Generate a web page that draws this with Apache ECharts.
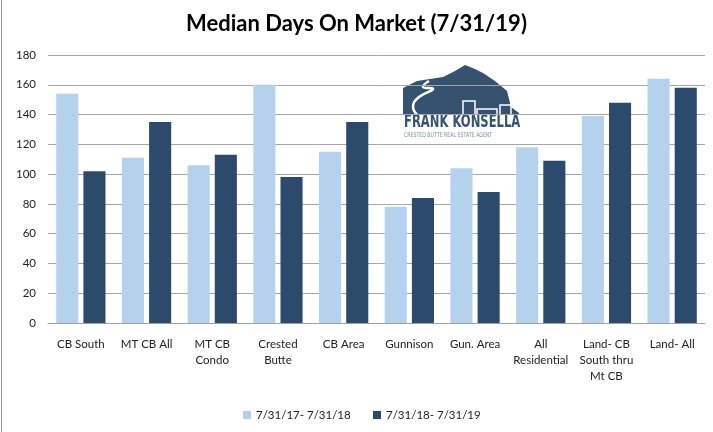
<!DOCTYPE html>
<html>
<head>
<meta charset="utf-8">
<script src="https://cdn.jsdelivr.net/npm/echarts@6/dist/echarts.min.js"></script>
<style>
html,body{margin:0;padding:0;background:#fff;}
#chart{width:713px;height:432px;}
</style>
</head>
<body>
<div id="chart"></div>
<script>
var categories = ['CB South','MT CB All','MT CB\nCondo','Crested\nButte','CB Area','Gunnison','Gun. Area','All\nResidential','Land- CB\nSouth thru\nMt CB','Land- All'];
var series1Name = '7/31/17- 7/31/18';
var series2Name = '7/31/18- 7/31/19';
var series1 = [154, 111, 106, 160, 115, 78, 104, 118, 139, 164];
var series2 = [102, 135, 113, 98, 135, 84, 88, 109, 148, 158];
var yTicks = {min: 0, max: 180, interval: 20};

var FONT = 'Lato, "Open Sans", sans-serif';
var legendText = {fontFamily: FONT, fontSize: 11.5, color: '#222'};
var chart = echarts.init(document.getElementById('chart'));
chart.setOption({
  animation: false,
  backgroundColor: '#ffffff',
  title: {
    text: 'Median Days On Market (7/31/19)',
    left: 'center',
    top: 8,
    textStyle: {fontFamily: FONT, fontSize: 22, fontWeight: 'bold', color: '#000'}
  },
  legend: [
    {left: 238, top: 404, itemWidth: 8, itemHeight: 8, icon: 'rect', itemGap: 5,
     textStyle: legendText, data: [series1Name]},
    {left: 368, top: 404, itemWidth: 8, itemHeight: 8, icon: 'rect', itemGap: 5,
     textStyle: legendText, data: [series2Name]}
  ],
  grid: {left: 48, right: 8, top: 55, bottom: 109, containLabel: false},
  xAxis: {
    type: 'category',
    data: categories,
    axisLine: {lineStyle: {color: '#a0a0a0', width: 1}},
    axisTick: {show: false},
    axisLabel: {fontFamily: FONT, fontSize: 11.5, color: '#222', lineHeight: 16, margin: 13, interval: 0}
  },
  yAxis: {
    type: 'value',
    min: yTicks.min, max: yTicks.max, interval: yTicks.interval,
    axisLine: {show: false},
    axisTick: {show: false},
    splitLine: {lineStyle: {color: '#a6a6a6', width: 1}},
    axisLabel: {fontFamily: FONT, fontSize: 11.5, color: '#222', margin: 12}
  },
  series: [
    {name: series1Name, type: 'bar', data: series1, barGap: '23%', barCategoryGap: '25%',
     itemStyle: {color: '#b4d2ee'}},
    {name: series2Name, type: 'bar', data: series2,
     itemStyle: {color: '#2c4a6b'}}
  ],
  graphic: [
    {type: 'line', shape: {x1: 1.5, y1: 0, x2: 1.5, y2: 432}, style: {stroke: '#9a9a9a', lineWidth: 1}},
    {type: 'group', x: 403, y: 65, z: 10, children: [
      {type: 'polygon', shape: {points: [[0,23],[14,16],[40,12],[52,6],[62,0],[72,4],[80,8],[92,16],[104,26],[108,42],[116,48],[116,62],[0,62]]},
       style: {fill: '#35536f'}},
      {type: 'polyline', shape: {points: [[26,16],[20,22],[30,24],[16,32],[10,42],[16,52],[24,60]], smooth: 0.5},
       style: {stroke: '#ffffff', lineWidth: 2.5, fill: null}},
      {type: 'rect', shape: {x: 60, y: 36, width: 12, height: 22}, style: {fill: 'none', stroke: '#ffffff', lineWidth: 1.5}},
      {type: 'rect', shape: {x: 74, y: 44, width: 20, height: 14}, style: {fill: 'none', stroke: '#ffffff', lineWidth: 1.5}},
      {type: 'rect', shape: {x: 97, y: 40, width: 11, height: 18}, style: {fill: 'none', stroke: '#ffffff', lineWidth: 1.5}},
      {type: 'rect', shape: {x: 0, y: 50, width: 116, height: 14}, style: {fill: '#ffffff'}},
      {type: 'text', x: 1, y: 49, scaleX: 0.68, style: {text: 'FRANK KONSELLA', fill: '#35536f', align: 'left', verticalAlign: 'top',
        font: 'bold 17px "DejaVu Sans", sans-serif'}},
      {type: 'text', x: 1, y: 67, scaleX: 0.72, style: {text: 'CRESTED BUTTE REAL ESTATE AGENT', fill: '#7890a8', align: 'left', verticalAlign: 'top',
        font: '6.5px "DejaVu Sans", sans-serif'}}
    ]}
  ]
});
</script>
</body>
</html>
